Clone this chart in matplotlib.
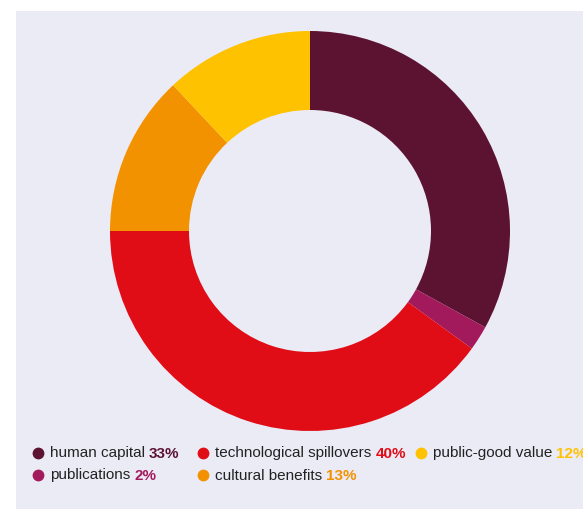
import matplotlib
matplotlib.use("Agg")
import matplotlib.pyplot as plt
from matplotlib.patches import Rectangle

# Data
labels = ["human capital", "publications", "technological spillovers",
          "cultural benefits", "public-good value"]
shares = [33, 2, 40, 13, 12]
colors = ["#5C1331", "#A31A5C", "#E00D16", "#F29200", "#FFC200"]

plt.rcParams['font.family'] = ['Liberation Sans', 'DejaVu Sans']

W, H = 583, 509
fig = plt.figure(figsize=(W / 100, H / 100), dpi=100)
fig.patch.set_facecolor("white")

# lavender panel
fig.add_artist(Rectangle((16 / W, 0), 1 - 16 / W, (H - 11) / H,
                         transform=fig.transFigure, facecolor="#EBEBF6",
                         edgecolor="none", zorder=0))

# donut: centre (310, 231) px, radius 200 px
cx, cy, R = 310, 231, 200
ax = fig.add_axes([(cx - R) / W, (H - cy - R) / H, 2 * R / W, 2 * R / H])
ax.pie(shares, colors=colors, startangle=90, counterclock=False, radius=1,
       wedgeprops=dict(width=0.395, edgecolor="none"))
ax.set_xlim(-1, 1)
ax.set_ylim(-1, 1)
ax.set_aspect("equal")
ax.axis("off")

# legend drawn in pixel space
ov = fig.add_axes([0, 0, 1, 1], zorder=5)
ov.set_xlim(0, W)
ov.set_ylim(H, 0)
ov.axis("off")

# (marker x, row y) for each entry, in pixels
slots = [(38, 453), (38, 475), (203, 453), (203, 475), (421, 453)]
fs = 11
renderer = fig.canvas.get_renderer()
for (mx, my), lab, val, col in zip(slots, labels, shares, colors):
    ov.plot(mx, my, 'o', ms=8.5, color=col, mec="none")
    base = my + 4.5
    t = ov.text(mx + 12, base, lab, fontsize=fs, color="#222222",
                va="baseline", ha="left")
    bb = t.get_window_extent(renderer=renderer)
    ov.text(bb.x1 + 4, H - base, f"{val}%", fontsize=fs, color=col,
            fontweight="bold", va="baseline", ha="left", transform=None)

fig.savefig("out.png", dpi=100)
